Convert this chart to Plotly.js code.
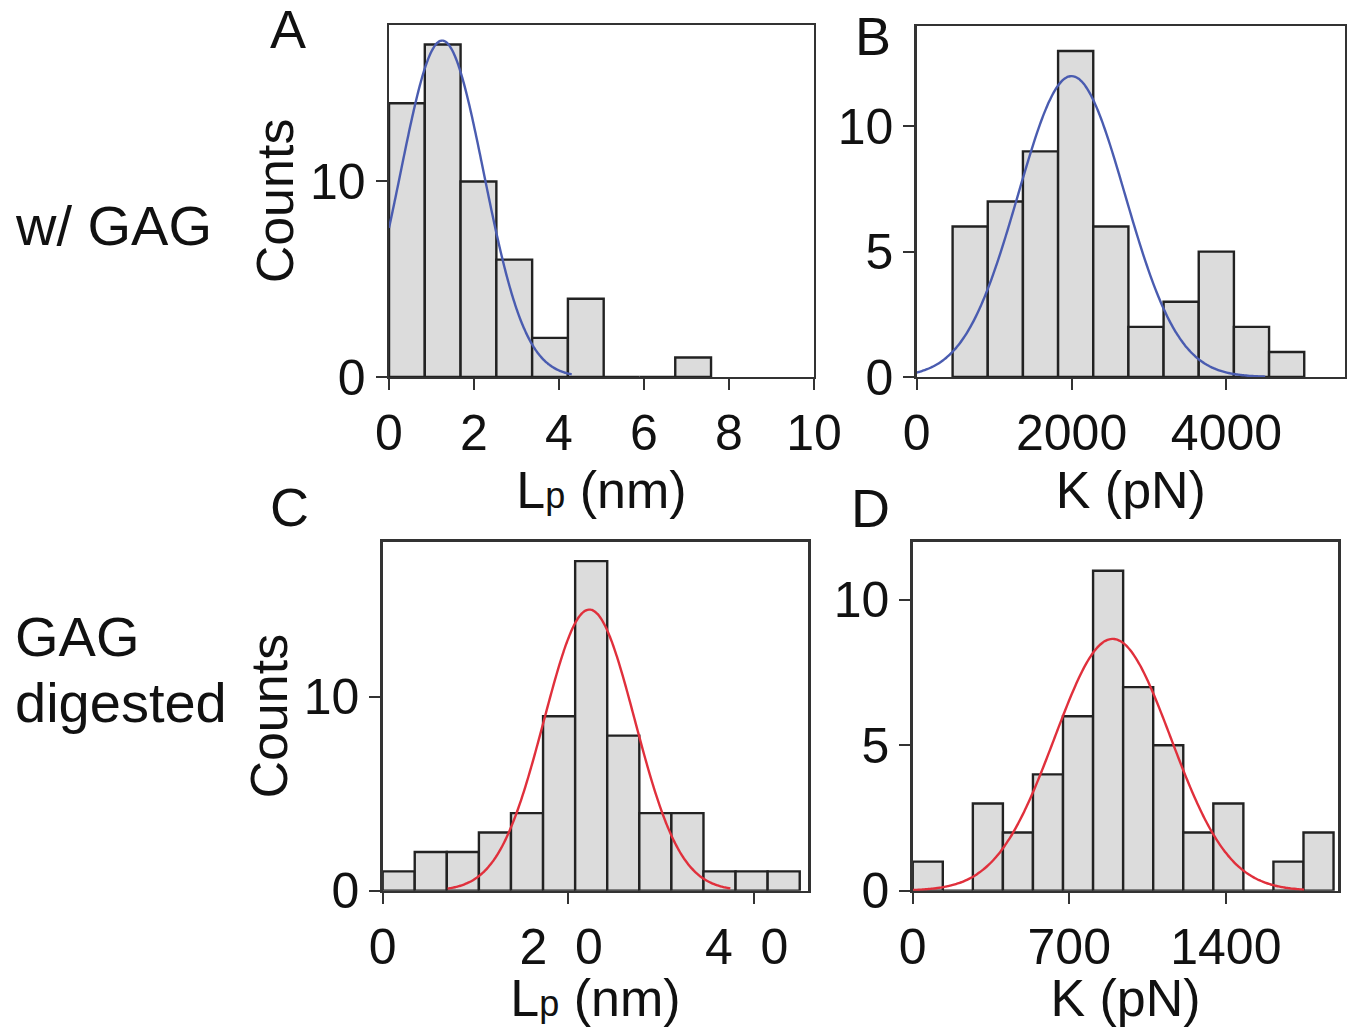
<!DOCTYPE html>
<html>
<head>
<meta charset="utf-8">
<script src="https://cdn.plot.ly/plotly-3.0.1.min.js"></script>
<style>html,body{margin:0;padding:0;background:#fff;}#chart{width:1355px;height:1027px;}</style>
</head>
<body>
<div id="chart"></div>
<script>
// ---- Data ----
// Panel A: Lp (nm), with GAG
const binStartA = 0, binWidthA = 0.842;
const countsA = [14, 17, 10, 6, 2, 4, 0, 0, 1];
const fitA = {amp: 17.2, mean: 1.25, sigma: 0.98, from: 0, to: 4.3};

// Panel B: K (pN), with GAG
const binStartB = 464, binWidthB = 454;
const countsB = [6, 7, 9, 13, 6, 2, 3, 5, 2, 1];
const fitB = {amp: 12.0, mean: 2000, sigma: 690, from: 0, to: 4500};

// Panel C: Lp (nm), GAG digested
const binStartC = 0, binWidthC = 0.346;
const countsC = [1, 2, 2, 3, 4, 9, 17, 8, 4, 4, 1, 1, 1];
const fitC = {amp: 14.5, mean: 2.23, sigma: 0.49, from: 0.7, to: 3.75};

// Panel D: K (pN), GAG digested
const binStartD = 0, binWidthD = 134.4;
const countsD = [1, 0, 3, 2, 4, 6, 11, 7, 5, 2, 3, 0, 1, 2];
const fitD = {amp: 8.66, mean: 894, sigma: 260, from: 0, to: 1750};

// Tick labels
const xTickValsA = [0, 2, 4, 6, 8, 10];
const xTickTextA = ['0', '2', '4', '6', '8', '10'];
const xTickValsB = [0, 2000, 4000];
const xTickTextB = ['0', '2000', '4000'];
const xTickValsC = [0, 2, 4];
const xTickTextC = ['0', '2\u00a0\u00a00\u00a0', '4\u00a0\u00a00\u00a0'];
const xTickValsD = [0, 700, 1400];
const xTickTextD = ['0', '700', '1400'];
const yTickValsAC = [0, 10];
const yTickValsBD = [0, 5, 10];

// ---- Helpers ----
const FONT = 'Liberation Sans, Arial, Helvetica, sans-serif';
const BAR_FILL = '#dcdcdc', BAR_LINE = '#222';
const BLUE = '#4a5cb0', RED = '#e0303c';

function barTrace(start, width, counts, xa, ya) {
  const x = counts.map((_, i) => start + (i + 0.5) * width);
  return {type: 'bar', x: x, y: counts, width: width, xaxis: xa, yaxis: ya,
    marker: {color: BAR_FILL, line: {color: BAR_LINE, width: 2.4}}, hoverinfo: 'x+y'};
}
function fitTrace(fit, color, xa, ya) {
  const n = 200, x = [], y = [];
  for (let i = 0; i <= n; i++) {
    const v = fit.from + (fit.to - fit.from) * i / n;
    x.push(v);
    y.push(fit.amp * Math.exp(-Math.pow(v - fit.mean, 2) / (2 * fit.sigma * fit.sigma)));
  }
  return {type: 'scatter', mode: 'lines', x: x, y: y, xaxis: xa, yaxis: ya,
    line: {color: color, width: 2.4, shape: 'spline'}, hoverinfo: 'skip'};
}

const data = [
  barTrace(binStartA, binWidthA, countsA, 'x', 'y'),
  fitTrace(fitA, BLUE, 'x', 'y'),
  barTrace(binStartB, binWidthB, countsB, 'x2', 'y2'),
  fitTrace(fitB, BLUE, 'x2', 'y2'),
  barTrace(binStartC, binWidthC, countsC, 'x3', 'y3'),
  fitTrace(fitC, RED, 'x3', 'y3'),
  barTrace(binStartD, binWidthD, countsD, 'x4', 'y4'),
  fitTrace(fitD, RED, 'x4', 'y4')
];

const tickFont = {family: FONT, size: 50, color: '#111'};
const titleFont = {family: FONT, size: 52, color: '#111'};
function xAxis(domain, range, vals, text, title, anchor) {
  return {domain: domain, range: range, anchor: anchor, tickmode: 'array', tickvals: vals, ticktext: text,
    ticks: 'outside', ticklen: 11, tickwidth: 2, tickcolor: '#333',
    showline: true, mirror: true, linecolor: '#333', linewidth: 2.4,
    showgrid: false, zeroline: false, tickfont: tickFont,
    title: {text: title, font: titleFont, standoff: 4}};
}
function yAxis(domain, range, vals, title, anchor) {
  return {domain: domain, range: range, anchor: anchor, tickmode: 'array', tickvals: vals,
    ticks: 'outside', ticklen: 11, tickwidth: 2, tickcolor: '#333',
    showline: true, mirror: true, linecolor: '#333', linewidth: 2.4,
    showgrid: false, zeroline: false, tickfont: tickFont,
    title: {text: title, font: titleFont, standoff: 0}};
}
const LP = 'L<span style="font-size:36px">p</span> (nm)';

function ann(text, x, y, size, xanchor) {
  return {text: text, x: x, y: y, xref: 'paper', yref: 'paper', showarrow: false,
    xanchor: xanchor || 'center', yanchor: 'middle', font: {family: FONT, size: size, color: '#111'}};
}

const layout = {
  width: 1355, height: 1027,
  margin: {l: 0, r: 0, t: 0, b: 0},
  paper_bgcolor: '#fff', plot_bgcolor: '#fff',
  showlegend: false, bargap: 0,
  xaxis: xAxis([0.2871, 0.6007], [0, 10], xTickValsA, xTickTextA, LP, 'y'),
  yaxis: yAxis([0.6329, 0.9757], [0, 18], yTickValsAC, 'Counts', 'x'),
  xaxis2: xAxis([0.6765, 0.9926], [0, 5530], xTickValsB, xTickTextB, 'K (pN)', 'y2'),
  yaxis2: yAxis([0.6329, 0.9747], [0, 14], yTickValsBD, '', 'x2'),
  xaxis3: xAxis([0.2824, 0.5965], [0, 4.59], xTickValsC, xTickTextC, LP, 'y3'),
  yaxis3: yAxis([0.1327, 0.4725], [0, 18], yTickValsAC, 'Counts', 'x3'),
  xaxis4: xAxis([0.6736, 0.9877], [0, 1903], xTickValsD, xTickTextD, 'K (pN)', 'y4'),
  yaxis4: yAxis([0.1327, 0.4725], [0, 12], yTickValsBD, '', 'x4'),
  annotations: [
    ann('A', 0.2125, 0.9715, 54),
    ann('B', 0.6443, 0.9650, 54),
    ann('C', 0.2133, 0.5064, 54),
    ann('D', 0.6428, 0.5054, 54),
    ann('w/ GAG', 0.0096, 1 - 225 / 1027, 56, 'left'),
    ann('GAG', 0.0096, 1 - 636 / 1027, 56, 'left'),
    ann('digested', 0.0096, 1 - 702 / 1027, 56, 'left')
  ]
};

Plotly.newPlot('chart', data, layout, {displayModeBar: false, staticPlot: true});
</script>
</body>
</html>
